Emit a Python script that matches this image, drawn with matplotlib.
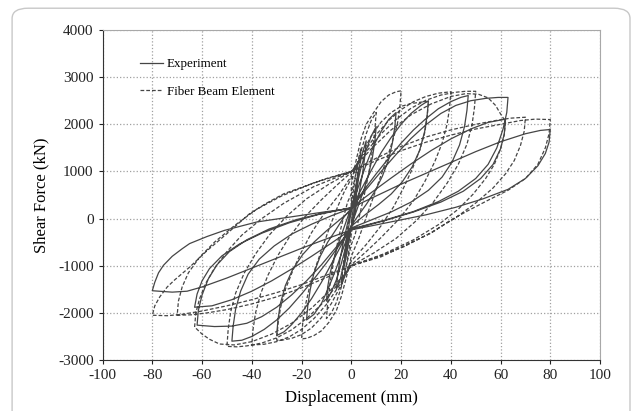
"""
Hysteresis loops: experiment vs fiber beam element model (shear force vs displacement).
"""
import numpy as np
import matplotlib
matplotlib.use('Agg')
import matplotlib.pyplot as plt
from matplotlib.patches import FancyBboxPatch

font = {'family': 'Liberation Serif', 'size': 11}
matplotlib.rc('font', **font)
matplotlib.rcParams['axes.unicode_minus'] = False

# ---- data: (displacement mm, shear force kN) ----
# experiment cycles (solid)
exp_03 = [(0, -80), (1, 300), (2, 700), (3, 1050), (2.6, 800), (1.8, 400), (1, 80), (0, -200),
          (-1, -500), (-2, -800), (-3, -1050), (-2.6, -800), (-1.6, -400), (-0.8, -80), (0, 150)]
exp_06 = [(0, 150), (1.5, 600), (3, 1050), (4.5, 1400), (6, 1650), (5.5, 1350), (4.5, 950), (3, 500),
          (1.5, 150), (0, -200), (-1.5, -550), (-3, -950), (-4.5, -1300), (-6, -1500), (-5.5, -1200),
          (-4.5, -850), (-3, -450), (-1.5, -100), (0, 200)]
exp_10 = [(0, 200), (2, 650), (4, 1100), (6, 1450), (8, 1750), (10, 1950), (9.5, 1650), (8.5, 1300),
          (7, 950), (5, 600), (3, 300), (1, 0), (0, -150), (-2, -550), (-4, -950), (-6, -1300),
          (-8, -1550), (-10, -1750), (-9.5, -1450), (-8.5, -1150), (-7, -850), (-5, -500), (-3, -200),
          (-1, 100), (0, 220)]
exp_18 = [(0, 220), (3, 700), (6, 1150), (9, 1550), (12, 1850), (15, 2100), (18, 2250), (17.5, 1950),
          (16.5, 1600), (15, 1250), (12.5, 900), (9.5, 580), (6, 300), (3, 80), (0, -150), (-3, -600),
          (-6, -1050), (-9, -1450), (-12, -1800), (-15, -2030), (-18, -2150), (-17.5, -1850),
          (-16.5, -1500), (-15, -1150), (-12.5, -800), (-9.5, -500), (-6, -220), (-3, 30), (0, 220)]
exp_31 = [(0, 220), (4, 620), (8, 1020), (12, 1400), (16, 1720), (20, 2000), (24, 2230), (28, 2400),
          (31, 2500), (30.5, 2200), (29.5, 1850), (27.5, 1450), (24.5, 1100), (20.5, 780), (16, 520),
          (11, 300), (6, 100), (0, -160), (-4, -560), (-8, -960), (-12, -1350), (-16, -1700),
          (-20, -2000), (-24, -2250), (-27, -2400), (-30, -2480), (-29.5, -2150), (-28.5, -1800),
          (-26.5, -1420), (-23.5, -1070), (-19.5, -760), (-15, -500), (-10, -260), (-5, -40), (0, 180)]
exp_47 = [(0, 230), (5, 600), (10, 950), (15, 1280), (20, 1600), (25, 1880), (30, 2120), (35, 2330),
          (40, 2480), (44, 2570), (47, 2610), (46.5, 2300), (45.5, 1950), (43.5, 1560), (40.5, 1200),
          (36.5, 880), (31, 600), (24, 350), (16, 140), (8, -30), (0, -200), (-5, -580), (-10, -940),
          (-15, -1280), (-20, -1600), (-25, -1900), (-30, -2150), (-35, -2350), (-40, -2500),
          (-44, -2580), (-48, -2600), (-47.5, -2280), (-46.5, -1920), (-44.5, -1540), (-41.5, -1180),
          (-37, -860), (-31, -580), (-24, -330), (-16, -120), (-8, 60), (0, 220)]
exp_63a = [(0, 230), (6, 620), (12, 1000), (18, 1360), (24, 1700), (30, 1990), (36, 2230), (42, 2400),
           (48, 2500), (54, 2550), (59, 2570), (63, 2570), (62.5, 2250), (61, 1900), (58.5, 1500),
           (55, 1150), (50, 850), (43, 580), (35, 360), (25, 150), (13, -40), (0, -220), (-6, -600),
           (-12, -980), (-18, -1320), (-24, -1620), (-30, -1880), (-36, -2080), (-42, -2220),
           (-48, -2280), (-55, -2290), (-62, -2260), (-61.5, -1950), (-60, -1620), (-57.5, -1280),
           (-54, -980), (-49, -700), (-42, -450), (-33, -220), (-22, -20), (-11, 120), (0, 230)]
exp_63b = [(0, 230), (8, 550), (16, 860), (24, 1160), (32, 1440), (40, 1690), (48, 1900), (55, 2040),
           (62, 2110), (61.5, 1800), (60, 1480), (57, 1150), (52, 850), (45, 580), (36, 350), (25, 140),
           (13, -50), (0, -230), (-8, -520), (-16, -800), (-24, -1070), (-32, -1320), (-40, -1540),
           (-48, -1720), (-56, -1850), (-63, -1880), (-62, -1600), (-60, -1320), (-57, -1060),
           (-52, -790), (-45, -540), (-36, -310), (-25, -90), (-13, 90), (0, 230)]
exp_80 = [(0, 230), (10, 480), (20, 730), (30, 960), (40, 1190), (50, 1420), (60, 1630), (70, 1800),
          (76, 1870), (80, 1890), (79.5, 1620), (78, 1380), (75, 1120), (70, 850), (63, 620), (53, 420),
          (42, 240), (30, 80), (16, -70), (0, -240), (-10, -430), (-20, -630), (-30, -840), (-40, -1050),
          (-50, -1260), (-60, -1450), (-66, -1540), (-72, -1560), (-80, -1530), (-79, -1350),
          (-77.5, -1150), (-75.5, -990), (-72, -800), (-68, -640), (-65, -530), (-58, -380),
          (-51, -250), (-38, -72), (-24.5, 34), (-11, 140), (0, 218)]

# fiber beam element cycles (dashed)
fe_04 = [(0, 300), (1, 650), (2, 1000), (3, 1300), (4, 1500), (3.5, 1200), (2.5, 700), (1.5, 250),
         (0.5, -150), (0, -330), (-1, -680), (-2, -1000), (-3, -1250), (-4, -1420), (-3.5, -1100),
         (-2.5, -650), (-1.5, -200), (-0.5, 150), (0, 300)]
fe_10 = [(0, 500), (2, 1000), (4, 1450), (6, 1800), (8, 2080), (10, 2250), (9.5, 1900), (8.5, 1450),
         (7, 950), (5, 450), (3, 0), (1.5, -350), (0, -550), (-2, -1000), (-4, -1450), (-6, -1780),
         (-8, -2000), (-10, -2120), (-9.5, -1800), (-8.5, -1350), (-7, -880), (-5, -380), (-3, 50),
         (-1.5, 350), (0, 520)]
fe_20 = [(0, 700), (2, 1250), (4, 1700), (6, 2000), (9, 2250), (12, 2480), (15, 2620), (18, 2690),
         (20, 2710), (19.5, 2350), (18.5, 2000), (17, 1720), (14.5, 1300), (11.5, 850), (8.5, 400),
         (5.5, -50), (3, -420), (0, -800), (-2, -1250), (-4, -1650), (-6, -1950), (-9, -2200),
         (-12, -2380), (-15, -2480), (-18, -2540), (-20, -2550), (-19.5, -2200), (-18.5, -1850),
         (-17, -1500), (-14.5, -1050), (-11.5, -600), (-8.5, -150), (-5.5, 250), (-3, 550), (0, 850)]
fe_31 = [(0, 850), (4, 1350), (8, 1750), (12, 2050), (16, 2250), (20, 2380), (24, 2440), (28, 2470),
         (31, 2480), (30.5, 2150), (29.5, 1820), (27.5, 1450), (24.5, 1050), (21, 650), (17, 250),
         (12, -150), (6, -550), (0, -900), (-4, -1400), (-8, -1800), (-12, -2100), (-16, -2320),
         (-20, -2460), (-24, -2540), (-28, -2580), (-30, -2580), (-29.5, -2250), (-28.5, -1900),
         (-26.5, -1500), (-23.5, -1100), (-20, -700), (-16, -300), (-11, 100), (-5, 500), (0, 900)]
fe_40 = [(0, 950), (5, 1400), (10, 1780), (15, 2080), (20, 2310), (25, 2480), (30, 2590), (35, 2660),
         (40, 2690), (39.5, 2350), (38.5, 2000), (36.5, 1600), (33.5, 1200), (29.5, 780), (25, 380),
         (19, -20), (12, -400), (6, -700), (0, -980), (-5, -1430), (-10, -1820), (-15, -2120),
         (-20, -2350), (-25, -2510), (-30, -2610), (-35, -2665), (-40, -2680), (-39.5, -2350),
         (-38.5, -2000), (-36.5, -1600), (-33.5, -1200), (-29.5, -780), (-25, -400), (-19, 20),
         (-12, 400), (-6, 700), (0, 980)]
fe_50 = [(0, 1000), (6, 1420), (12, 1800), (18, 2100), (24, 2340), (30, 2510), (36, 2620), (42, 2680),
         (46, 2700), (50, 2700), (49.5, 2350), (48.5, 1980), (46.5, 1580), (43, 1150), (38.5, 750),
         (33, 350), (26, -50), (18, -420), (9, -730), (0, -1000), (-6, -1430), (-12, -1820),
         (-18, -2120), (-24, -2360), (-30, -2530), (-36, -2640), (-42, -2700), (-46, -2720),
         (-50, -2710), (-49.5, -2350), (-48.5, -1980), (-46.5, -1580), (-43, -1150), (-38.5, -750),
         (-33, -350), (-26, 50), (-18, 420), (-9, 730), (0, 1000)]
fe_62 = [(0, 1000), (8, 1480), (16, 1880), (24, 2200), (32, 2430), (40, 2590), (46, 2650), (51, 2640),
         (55, 2560), (58, 2400), (60, 2220), (62, 2060), (61.5, 1780), (60, 1480), (57.5, 1150),
         (54, 850), (49, 520), (43, 200), (35, -130), (25, -450), (13, -750), (0, -1000), (-8, -1500),
         (-16, -1900), (-24, -2220), (-32, -2450), (-40, -2610), (-47, -2680), (-53, -2660),
         (-57, -2560), (-60, -2450), (-63, -2300), (-62.5, -2000), (-61, -1700), (-58.5, -1370),
         (-55, -1050), (-50, -700), (-44, -350), (-36, 0), (-27, 330), (-15, 680), (0, 1000)]
fe_70 = [(0, 1000), (10, 1280), (20, 1530), (30, 1730), (40, 1880), (50, 2000), (58, 2080), (64, 2130),
         (70, 2150), (69.5, 1850), (68, 1550), (65.5, 1230), (62, 950), (57, 650), (50, 330), (42, 20),
         (32, -300), (21, -600), (10, -820), (0, -1000), (-10, -1250), (-20, -1470), (-30, -1660),
         (-40, -1810), (-50, -1930), (-58, -2000), (-64, -2040), (-70, -2050), (-69.5, -1750),
         (-68, -1450), (-65.5, -1150), (-61, -820), (-55, -500), (-47, -150), (-38, 200), (-28, 480),
         (-15, 760), (0, 1000)]
fe_80 = [(0, 1000), (10, 1230), (20, 1440), (30, 1620), (40, 1770), (50, 1900), (60, 2000), (68, 2080),
         (74, 2110), (80, 2100), (79.5, 1800), (78, 1500), (75, 1150), (70, 850), (63, 600), (55, 390),
         (47, 170), (40, -30), (32, -310), (22, -560), (12, -810), (0, -1000), (-10, -1200),
         (-20, -1400), (-30, -1570), (-40, -1720), (-50, -1850), (-60, -1960), (-68, -2030),
         (-74, -2060), (-80, -2050), (-79, -1850), (-77, -1660), (-74, -1450), (-71, -1300),
         (-65, -1030), (-58, -680), (-50, -320), (-41, 100), (-34, 330), (-27, 530), (-18, 700),
         (-10, 850), (0, 1000)]

exp_loops = [exp_03, exp_06, exp_10, exp_18, exp_31, exp_47, exp_63a, exp_63b, exp_80]
fe_loops = [fe_04, fe_10, fe_20, fe_31, fe_40, fe_50, fe_62, fe_70, fe_80]

x_ticks = [-100, -80, -60, -40, -20, 0, 20, 40, 60, 80, 100]
y_ticks = [-3000, -2000, -1000, 0, 1000, 2000, 3000, 4000]


def join_loops(loops):
    """Chain the cycles into one continuous load path."""
    pts = np.array([p for loop in loops for p in loop], dtype=float)
    return pts[:, 0], pts[:, 1]


fig = plt.figure(figsize=(6.37, 4.11), dpi=100, facecolor='white')

# rounded frame around the figure
frame = FancyBboxPatch((0.019, -0.05), 0.970, 1.03, boxstyle='round,pad=0,rounding_size=0.025',
                       transform=fig.transFigure, facecolor='none', edgecolor='#c8c8c8', lw=1.0)
fig.patches.append(frame)

ax = fig.add_axes([0.161, 0.124, 0.781, 0.803])

ex, ey = join_loops(exp_loops)
fx, fy = join_loops(fe_loops)
ax.plot(ex, ey, color='#454545', lw=0.9, ls='-', label='Experiment')
ax.plot(fx, fy, color='#454545', lw=0.9, ls=(0, (3.0, 1.6)), label='Fiber Beam Element')

ax.set_xlim(-100, 100)
ax.set_ylim(-3000, 4000)
ax.set_xticks(x_ticks)
ax.set_yticks(y_ticks)
ax.grid(True, ls=':', color='#a0a0a0', lw=0.9)
ax.tick_params(direction='out', length=3, width=0.8, labelsize=11, colors='#222222')
for side in ['top', 'right']:
    ax.spines[side].set_color('#a8a8a8')
for side in ['left', 'bottom']:
    ax.spines[side].set_color('#333333')

ax.set_xlabel('Displacement (mm)', fontsize=12, labelpad=6)
ax.set_ylabel('Shear Force (kN)', fontsize=12, labelpad=6)

ax.legend(loc='upper left', bbox_to_anchor=(0.075, 0.915), frameon=False, fontsize=9.4,
          handlelength=1.75, handletextpad=0.3, labelspacing=1.2, borderpad=0, borderaxespad=0)

fig.savefig('out.png', dpi=100, facecolor='white')
plt.close()
